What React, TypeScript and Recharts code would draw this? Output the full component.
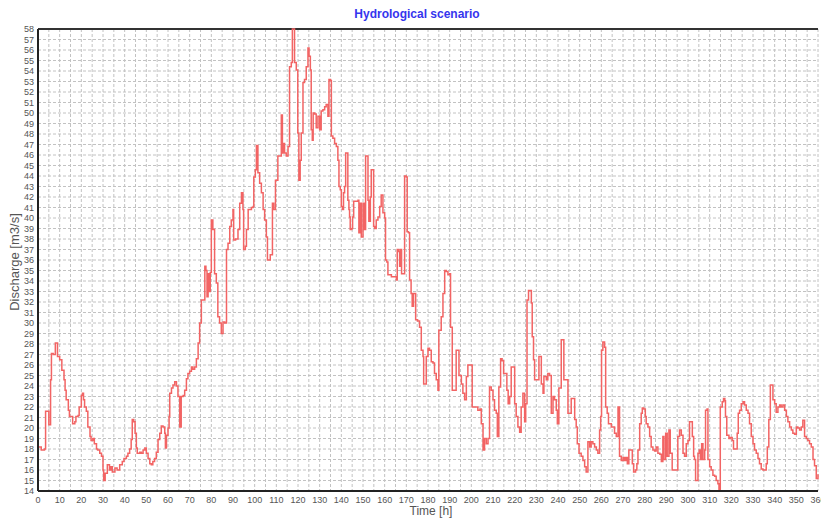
import { LineChart, Line, XAxis, YAxis, CartesianGrid, ReferenceLine } from 'recharts'

// hydrograph: change points (hour) and discharge (m3/s)
const hours = [
  0, 1.5, 3, 3.5, 5, 5.8, 6.2, 7, 8, 9, 10, 11, 12, 12.5, 13, 14, 14.5, 16, 17, 17.5,
  18.5, 19, 20, 20.5, 21, 21.5, 22.3, 23, 24, 24.5, 25.3, 26, 27, 27.5, 28.5, 29.3, 30, 30.3, 31, 32,
  33, 33.7, 34.3, 35.5, 36.5, 37.7, 38.9, 39.7, 40.8, 41.5, 42.3, 43, 43.5, 44.2, 44.8, 45.4, 45.8, 47, 47.7, 48.5,
  49.3, 50, 50.8, 51.6, 52.3, 53, 53.8, 54.6, 55.4, 56.2, 56.9, 57.7, 58.5, 58.8, 59.3, 60, 60.5, 60.8, 61.6, 62.3,
  63.1, 63.9, 64.6, 65.4, 66.1, 67, 67.7, 68.5, 69.2, 70, 70.8, 71.5, 72.3, 73.1, 73.9, 74.6, 75.4, 76, 77, 77.5,
  78, 78.5, 79, 79.5, 80, 80.7, 81.5, 82.3, 83, 83.8, 84.6, 85.4, 86.2, 87, 87.7, 88.5, 89.2, 90, 90.3, 91.2,
  92.3, 93.1, 93.9, 94.6, 94.9, 95.7, 96.2, 97, 98, 98.5, 99.3, 99.6, 100.3, 100.8, 101.5, 102.3, 103.1, 103.9, 104.6, 105.4,
  105.9, 106.6, 107.2, 108.2, 108.8, 109.2, 109.6, 110.7, 112.3, 112.8, 113.4, 113.8, 114.6, 115.4, 116.1, 116.9, 117.4, 118, 118.4, 119.2,
  119.9, 120.4, 121, 121.5, 122.3, 123, 123.8, 124.6, 125.1, 125.7, 126.1, 126.6, 127, 127.7, 128.4, 129.2, 130, 130.7, 131.5, 132.3,
  133, 133.8, 134.3, 135, 135.4, 136.1, 136.9, 137.7, 138.4, 138.9, 139.5, 140, 140.5, 141, 141.5, 142, 142.6, 143, 143.5, 143.8,
  144.1, 144.8, 145.2, 145.7, 147.7, 148.1, 148.6, 149.2, 150, 150.7, 151.2, 151.8, 152.3, 152.7, 153.4, 153.8, 154.3, 154.9, 155.4, 156.1,
  156.9, 157.7, 158.4, 159.2, 160, 160.4, 161, 161.5, 163.1, 165.4, 165.8, 166.5, 166.9, 167.3, 167.8, 168.5, 169.2, 170, 170.4, 171,
  171.5, 172.2, 172.7, 173.3, 174.3, 175.2, 176.1, 176.9, 177.7, 178, 179, 179.2, 180, 180.7, 181.5, 182.3, 183, 183.8, 184.6, 185,
  185.6, 186.1, 186.9, 187.7, 188.4, 189.2, 190, 190.4, 191.2, 192.3, 193, 193.8, 194.3, 194.9, 195.4, 196.1, 196.9, 197.7, 198.4, 200,
  200.4, 203, 204, 204.6, 205.4, 206.1, 206.9, 207.7, 208.4, 209.2, 210, 210.7, 211.5, 212, 212.7, 213.5, 214.2, 214.9, 216.4, 217,
  217.7, 218.4, 219.2, 220, 220.7, 221.5, 222.3, 223, 223.8, 224.6, 225.1, 225.7, 226.4, 227.7, 228.1, 228.7, 229.2, 231.2, 232.3, 233.1,
  233.5, 234.6, 235.3, 236.1, 236.9, 237.7, 238.4, 239.2, 239.7, 240.4, 241.5, 242.4, 242.7, 244, 244.6, 245.5, 246.1, 247, 247.7, 248.4,
  248.9, 249.7, 250.7, 251.5, 252.3, 253, 253.8, 254.6, 255.3, 256.1, 256.9, 257.7, 258.4, 259.2, 259.7, 260.1, 260.7, 261.5, 262, 262.7,
  263.3, 264.6, 266.1, 266.9, 267.7, 268.2, 268.4, 269.2, 270, 270.7, 271.4, 272, 272.7, 273.6, 274.3, 274.9, 275.8, 276.4, 276.9, 277.7,
  278.4, 278.9, 279.6, 280.3, 280.7, 281.5, 282.3, 283, 283.8, 284.6, 285.3, 286.1, 287, 287.7, 288.4, 288.9, 289.7, 290.4, 291.2, 291.8,
  292.7, 294.6, 295.3, 296.1, 296.9, 297.7, 298.4, 299.2, 300, 300.7, 301.6, 302, 302.6, 303, 303.5, 304.2, 304.6, 305.2, 305.7, 306.3,
  306.9, 307.7, 308.1, 308.8, 309.2, 310, 310.7, 311.5, 312.3, 313, 313.8, 314.3, 314.9, 315.8, 316.4, 317, 317.3, 317.9, 318.9, 319.6,
  320.4, 321, 322, 322.7, 323.2, 323.8, 324.6, 325.4, 326.1, 326.9, 327.7, 328.4, 329.2, 330, 330.7, 331.5, 332.3, 333, 333.8, 334.6,
  335.4, 336.1, 336.6, 337.3, 338, 338.7, 339.2, 340, 340.7, 341.5, 342.3, 343, 343.8, 344.6, 345.4, 346.1, 346.9, 347.7, 348.4, 349.2,
  350, 350.7, 351.5, 352.3, 353, 353.8, 354.6, 355.3, 356.1, 356.9, 357.7, 358.4, 359.2, 360
]

const discharge = [
  18.2, 17.9, 18.0, 21.6, 20.3, 24.6, 27.1, 27.0, 28.1, 26.8, 26.5, 25.5, 24.6, 23.6, 22.7, 21.7, 21.1, 20.4, 20.6, 21.1,
  21.2, 22.0, 23.1, 23.3, 22.7, 22.0, 21.6, 20.1, 19.2, 18.8, 19.0, 18.5, 18.0, 17.9, 17.6, 17.3, 16.0, 15.0, 15.7, 16.5,
  16.0, 16.3, 15.8, 16.2, 16.0, 16.5, 16.8, 17.1, 17.3, 17.6, 18.0, 18.9, 20.8, 20.6, 19.5, 18.1, 17.6, 17.7, 17.6, 17.9,
  18.1, 17.6, 17.1, 16.6, 16.5, 16.8, 17.1, 17.7, 18.9, 19.5, 20.2, 20.1, 19.5, 18.1, 19.3, 20.0, 21.1, 23.3, 23.8, 24.1,
  24.4, 24.0, 23.0, 20.1, 23.0, 23.1, 23.6, 24.7, 25.2, 25.4, 25.8, 25.6, 25.8, 26.6, 28.1, 30.0, 32.2, 32.2, 35.4, 35.0,
  32.5, 34.7, 33.0, 34.8, 39.8, 38.9, 34.7, 33.8, 30.6, 30.0, 29.0, 30.1, 30.0, 37.0, 37.6, 39.2, 39.8, 40.8, 37.9, 38.0,
  38.9, 41.4, 42.4, 40.8, 37.0, 37.3, 38.9, 40.8, 40.8, 41.0, 41.1, 43.9, 44.6, 46.9, 44.3, 43.3, 42.4, 40.8, 39.8, 38.2,
  36.0, 36.0, 36.5, 41.4, 40.8, 40.8, 43.6, 45.9, 49.8, 46.2, 47.1, 46.2, 45.9, 46.8, 54.4, 54.8, 58.0, 58.0, 54.8, 54.1,
  48.1, 43.6, 45.5, 48.1, 52.9, 53.2, 54.4, 56.2, 55.4, 54.1, 48.4, 47.4, 50.0, 49.9, 48.6, 49.7, 48.4, 50.2, 50.3, 50.6,
  50.8, 49.7, 53.2, 53.1, 47.8, 47.6, 47.1, 46.8, 45.5, 43.0, 42.7, 41.1, 40.8, 42.4, 43.0, 46.2, 46.2, 41.7, 40.8, 40.1,
  38.9, 39.0, 40.1, 41.6, 41.7, 38.6, 41.4, 38.2, 41.4, 38.9, 45.9, 45.9, 41.7, 39.7, 42.0, 44.6, 44.6, 39.2, 39.0, 39.8,
  40.1, 41.1, 42.2, 40.5, 40.0, 36.0, 35.8, 34.6, 34.4, 34.1, 37.0, 36.8, 35.4, 37.0, 34.7, 34.7, 44.0, 43.9, 38.7, 38.6,
  34.1, 32.8, 31.6, 32.8, 30.3, 30.2, 29.6, 27.4, 26.8, 24.2, 24.2, 26.8, 27.6, 27.4, 26.3, 26.2, 25.2, 24.6, 23.6, 29.3,
  29.3, 30.6, 32.8, 35.0, 34.9, 34.6, 34.7, 29.6, 23.6, 23.6, 27.4, 27.4, 25.0, 25.0, 24.2, 23.3, 22.7, 24.9, 26.0, 26.0,
  22.0, 21.7, 21.8, 20.4, 17.9, 19.0, 18.5, 19.0, 23.9, 23.6, 22.7, 21.7, 21.4, 19.2, 23.9, 26.6, 26.4, 25.2, 23.6, 22.3,
  23.0, 25.8, 25.8, 22.3, 21.1, 20.1, 19.6, 22.0, 23.3, 20.6, 22.3, 32.2, 33.1, 31.9, 28.7, 26.5, 24.6, 26.8, 24.2, 23.3,
  24.9, 24.6, 25.2, 25.0, 21.4, 23.0, 22.7, 21.7, 20.4, 23.8, 28.4, 28.4, 24.6, 24.6, 21.4, 21.4, 22.8, 22.8, 20.8, 20.1,
  18.5, 17.6, 17.3, 16.9, 16.3, 15.8, 18.7, 18.2, 18.7, 18.5, 18.2, 17.9, 17.6, 19.8, 21.1, 27.4, 28.2, 27.7, 22.0, 21.4,
  20.4, 20.1, 19.5, 19.2, 22.0, 22.0, 17.3, 16.9, 17.2, 16.9, 17.2, 16.6, 17.9, 17.9, 16.6, 15.8, 16.0, 16.6, 17.9, 20.4,
  21.4, 21.9, 21.8, 21.1, 20.4, 20.1, 19.2, 18.2, 17.9, 17.8, 18.2, 17.6, 17.5, 16.8, 19.2, 17.0, 19.5, 17.3, 19.8, 17.6,
  16.0, 16.0, 19.2, 19.8, 19.3, 17.6, 17.3, 18.5, 18.8, 20.6, 20.6, 19.2, 17.3, 17.0, 15.0, 15.0, 17.6, 17.9, 17.0, 18.5,
  17.0, 17.9, 21.7, 21.8, 17.0, 16.3, 16.0, 15.5, 15.4, 15.0, 14.7, 14.0, 22.0, 22.5, 22.8, 22.6, 21.1, 19.3, 19.0, 19.1,
  18.8, 18.0, 18.0, 19.5, 21.4, 21.7, 22.3, 22.5, 22.2, 21.7, 21.4, 20.4, 19.2, 18.5, 17.9, 17.6, 17.1, 16.6, 16.1, 16.0,
  16.0, 16.6, 18.2, 20.8, 24.1, 24.1, 22.7, 22.3, 21.5, 22.0, 22.2, 22.0, 22.2, 21.7, 21.1, 20.6, 20.1, 19.8, 19.5, 19.4,
  20.1, 20.0, 19.8, 20.1, 20.75, 19.2, 19.0, 18.8, 18.5, 18.2, 17.0, 16.4, 15.2, 15.6
]

const timeTicks = [
  0, 5, 10, 15, 20, 25, 30, 35, 40, 45, 50, 55, 60, 65, 70, 75, 80, 85, 90, 95,
  100, 105, 110, 115, 120, 125, 130, 135, 140, 145, 150, 155, 160, 165, 170, 175, 180, 185, 190, 195,
  200, 205, 210, 215, 220, 225, 230, 235, 240, 245, 250, 255, 260, 265, 270, 275, 280, 285, 290, 295,
  300, 305, 310, 315, 320, 325, 330, 335, 340, 345, 350, 355, 360
]

const dischargeTicks = [
  14, 15, 16, 17, 18, 19, 20, 21, 22, 23, 24, 25, 26, 27, 28, 29, 30, 31, 32, 33, 34, 35, 36,
  37, 38, 39, 40, 41, 42, 43, 44, 45, 46, 47, 48, 49, 50, 51, 52, 53, 54, 55, 56, 57, 58
]

const data = hours.map((h, i) => ({ time: h, q: discharge[i] }))

const tickStyle = { fontSize: 9, fill: '#555', fontFamily: 'Liberation Sans, Arial, sans-serif' }

export default function App() {
  return (
    <div style={{ position: 'absolute', left: 0, top: 0, width: 821, height: 519, background: '#fff', fontFamily: 'Liberation Sans, Arial, sans-serif' }}>
      <div style={{ position: 'absolute', left: 0, width: 834, top: 7, textAlign: 'center', fontSize: 12, fontWeight: 'bold', color: '#3535ee' }}>
        Hydrological scenario
      </div>
      <div style={{ position: 'absolute', left: 0, width: 862, top: 504, textAlign: 'center', fontSize: 12, color: '#555' }}>
        Time [h]
      </div>
      <div style={{ position: 'absolute', left: 14, top: 262, width: 0, height: 0 }}>
        <div style={{ position: 'absolute', transform: 'translate(-50%, -50%) rotate(-90deg)', whiteSpace: 'nowrap', fontSize: 13, color: '#555' }}>
          Discharge [m3/s]
        </div>
      </div>
      <LineChart width={821} height={519} data={data} margin={{ top: 29, right: 3, bottom: 0, left: 0 }}>
        <CartesianGrid stroke="#c2c2c2" strokeDasharray="3 2" />
        <XAxis
          dataKey="time"
          type="number"
          domain={[0, 360]}
          ticks={timeTicks}
          interval={0}
          height={28}
          tick={tickStyle}
          tickLine={false}
          tickSize={3}
          tickMargin={3}
          tickFormatter={(v: number) => (v % 10 === 0 ? String(v) : '')}
          axisLine={{ stroke: '#222', strokeWidth: 2 }}
        />
        <YAxis
          type="number"
          domain={[14, 58]}
          ticks={dischargeTicks}
          interval={0}
          width={38}
          tick={tickStyle}
          tickLine={false}
          tickSize={2}
          tickMargin={2}
          axisLine={{ stroke: '#222', strokeWidth: 2 }}
        />
        <ReferenceLine y={58} stroke="#333" strokeWidth={2} />
        <Line
          type="stepAfter"
          dataKey="q"
          stroke="#f26464"
          strokeWidth={1.5}
          dot={false}
          isAnimationActive={false}
        />
      </LineChart>
    </div>
  )
}
